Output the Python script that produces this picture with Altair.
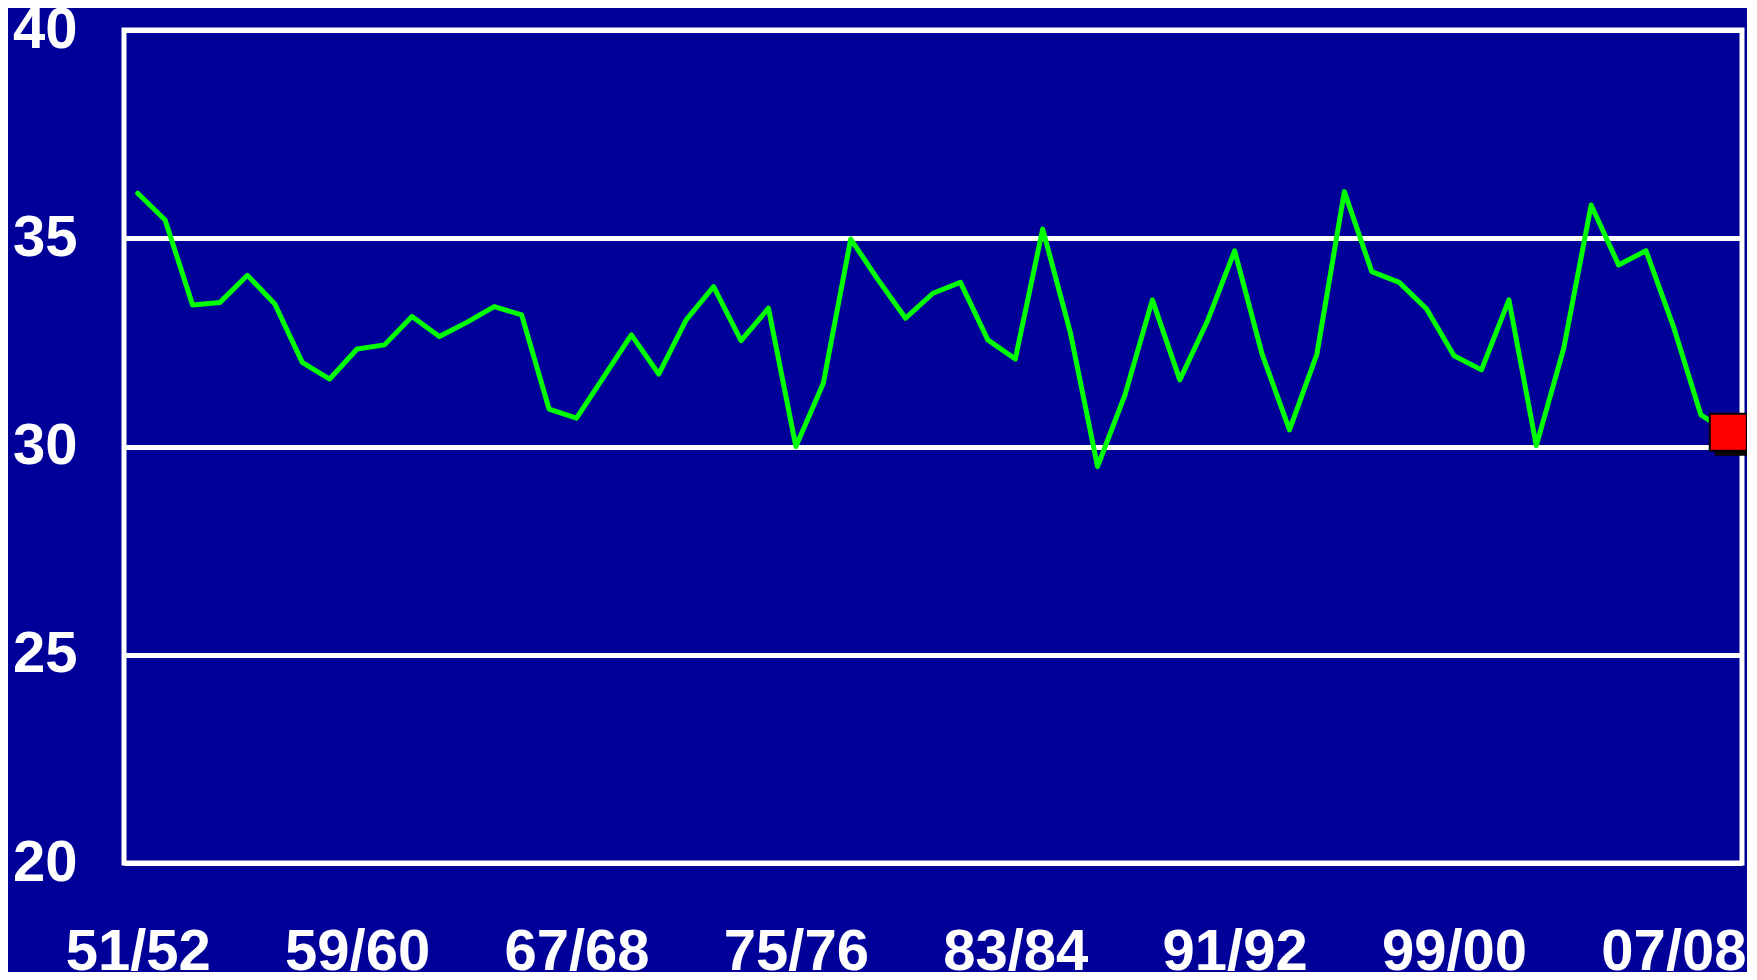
import altair as alt
import pandas as pd

seasons = [
    "51/52", "52/53", "53/54", "54/55", "55/56", "56/57", "57/58", "58/59", "59/60",
    "60/61", "61/62", "62/63", "63/64", "64/65", "65/66", "66/67", "67/68", "68/69",
    "69/70", "70/71", "71/72", "72/73", "73/74", "74/75", "75/76", "76/77", "77/78",
    "78/79", "79/80", "80/81", "81/82", "82/83", "83/84", "84/85", "85/86", "86/87",
    "87/88", "88/89", "89/90", "90/91", "91/92", "92/93", "93/94", "94/95", "95/96",
    "96/97", "97/98", "98/99", "99/00", "00/01", "01/02", "02/03", "03/04", "04/05",
    "05/06", "06/07", "07/08", "08/09", "09/10",
]

values = [
    36.08, 35.44, 33.40, 33.46, 34.11, 33.42, 32.02, 31.62, 32.34, 32.44,
    33.12, 32.64, 32.98, 33.36, 33.16, 30.90, 30.68, 31.68, 32.68, 31.74,
    33.04, 33.84, 32.54, 33.32, 30.00, 31.52, 34.98, 34.00, 33.08, 33.68,
    33.94, 32.56, 32.10, 35.22, 32.76, 29.52, 31.24, 33.52, 31.60, 33.00,
    34.70, 32.22, 30.40, 32.22, 36.12, 34.20, 33.94, 33.30, 32.18, 31.84,
    33.52, 30.02, 32.36, 35.80, 34.36, 34.70, 32.88, 30.76, 30.34,
]

tick_labels = ["51/52", "59/60", "67/68", "75/76", "83/84", "91/92", "99/00", "07/08"]
y_ticks = [20, 25, 30, 35, 40]

df = pd.DataFrame({"season": seasons, "value": values})
last = df.tail(1)

x_enc = alt.X(
    "season:O",
    sort=seasons,
    scale=alt.Scale(type="point", padding=0.5),
    axis=alt.Axis(
        values=tick_labels,
        title=None,
        labelAngle=0,
        labelFontSize=58,
        labelFont="Liberation Sans",
        labelFontWeight="bold",
        labelColor="white",
        labelPadding=60,
        ticks=False,
        tickSize=0,
        domain=False,
        grid=False,
        labelOverlap=False,
        labelFlush=False,
        labelBound=False,
    ),
)

y_enc = alt.Y(
    "value:Q",
    scale=alt.Scale(domain=[20, 40], nice=False, zero=False),
    axis=alt.Axis(
        values=y_ticks,
        title=None,
        labelFontSize=58,
        labelFont="Liberation Sans",
        labelFontWeight="bold",
        labelColor="white",
        labelPadding=47,
        ticks=False,
        tickSize=0,
        domain=False,
        grid=True,
        gridColor="white",
        gridWidth=5,
        gridOpacity=1,
        labelFlush=False,
        labelOverlap=False,
    ),
)

line = alt.Chart(df).mark_line(
    color="#00FF00", strokeWidth=5, strokeJoin="round", strokeCap="round"
).encode(x=x_enc, y=y_enc)

shadow = alt.Chart(last).mark_square(
    color="black", opacity=1, size=1369, xOffset=5, yOffset=5
).encode(x=alt.X("season:O", sort=seasons), y="value:Q")

square = alt.Chart(last).mark_square(
    fill="#FF0000", stroke="black", strokeWidth=2, opacity=1, fillOpacity=1, size=1369
).encode(x=alt.X("season:O", sort=seasons), y="value:Q")

chart = (
    alt.layer(line, shadow, square)
    .properties(
        width=1618,
        height=833,
        autosize=alt.AutoSizeParams(type="none"),
        padding={"left": 116, "top": 22, "right": 5, "bottom": 109},
        background="#000099",
    )
    .configure_view(stroke="white", strokeWidth=5, fill="#000099")
)

chart.save("out.html", embed_options={"renderer": "svg", "actions": False})
